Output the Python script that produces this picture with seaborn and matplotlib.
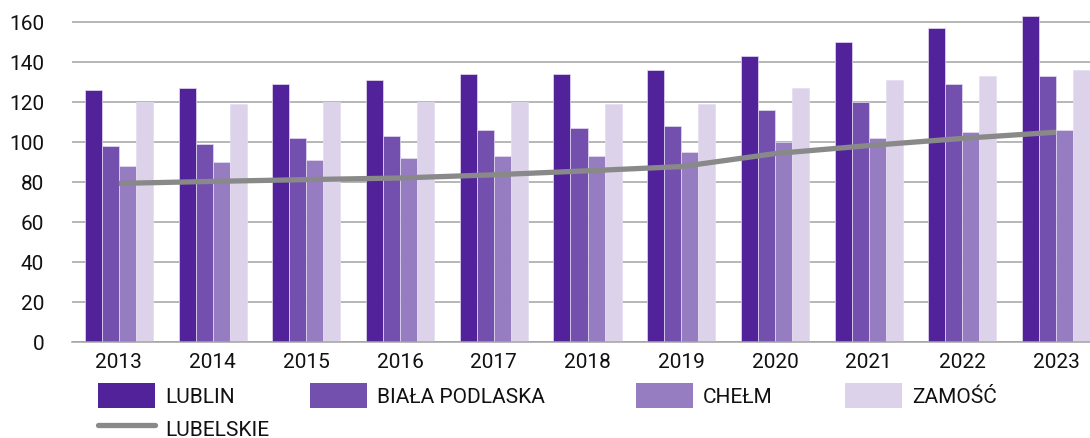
import numpy as np
import pandas as pd
import matplotlib
matplotlib.use("Agg")
import matplotlib.pyplot as plt
from matplotlib.patches import Patch
from matplotlib.lines import Line2D
import seaborn as sns

# ---- data -------------------------------------------------------------
years = ["2013", "2014", "2015", "2016", "2017", "2018",
         "2019", "2020", "2021", "2022", "2023"]
lublin = [126, 127, 129, 131, 134, 134, 136, 143, 150, 157, 163]
biala_podlaska = [98, 99, 102, 103, 106, 107, 108, 116, 120, 129, 133]
chelm = [88, 90, 91, 92, 93, 93, 95, 100, 102, 105, 106]
zamosc = [120, 119, 120, 120, 120, 119, 119, 127, 131, 133, 136]
lubelskie = [79.3, 80.3, 81.2, 82.0, 83.6, 85.6, 87.7, 94.2, 98.2, 101.8, 104.9]

city_names = ["LUBLIN", "BIAŁA PODLASKA", "CHEŁM", "ZAMOŚĆ"]
region_name = "LUBELSKIE"
yticks = [0, 20, 40, 60, 80, 100, 120, 140, 160]

# ---- styling ----------------------------------------------------------
sns.set_theme(style="white")
plt.rcParams["font.family"] = ["Roboto", "DejaVu Sans"]

palette = ["#52229A", "#7450AE", "#967DC1", "#DCD3EA"]
line_color = "#898989"
grid_color = "#A3A3A3"
text_color = "#111111"
fs = 15

df = pd.DataFrame({
    "year": np.repeat(years, 4),
    "city": city_names * len(years),
    "value": np.ravel(np.column_stack([lublin, biala_podlaska, chelm, zamosc])),
})

fig = plt.figure(figsize=(10.90, 4.39), dpi=100)
# y range runs a little past the top gridline so the tallest bar is not cut
ax = fig.add_axes([72 / 1090, 96 / 439, 1031 / 1090, 330 / 439])

sns.barplot(data=df, x="year", y="value", hue="city", order=years,
            hue_order=city_names, palette=palette, width=0.726,
            saturation=1, edgecolor="#E4DCF0", linewidth=0.5,
            legend=False, ax=ax, zorder=2)

sns.lineplot(x=np.arange(len(years)), y=lubelskie, color=line_color,
             linewidth=3.8, ax=ax, zorder=3, solid_capstyle="butt")

ax.set_xlim(-0.5, len(years) - 0.5)
ax.set_ylim(0, 165)
ax.set_yticks(yticks)
ax.set_yticklabels([str(v) for v in yticks])
ax.yaxis.grid(True, color=grid_color, linewidth=1.1)
ax.set_axisbelow(True)
ax.set_xlabel("")
ax.set_ylabel("")

for side in ["top", "right", "left"]:
    ax.spines[side].set_visible(False)
ax.spines["bottom"].set_color(grid_color)
ax.spines["bottom"].set_linewidth(1.1)

ax.tick_params(axis="both", length=0, labelsize=fs, colors=text_color)
ax.tick_params(axis="y", pad=20)
ax.tick_params(axis="x", pad=7)

# ---- legend: one entry per slot --------------------------------------
handles = [Patch(facecolor=c, edgecolor="none") for c in palette]
handles.append(Line2D([], [], color=line_color, linewidth=3.8))
labels = city_names + [region_name]
slots = [(88, 396.5), (300, 396.5), (626, 396.5), (835, 396.5), (88, 429)]

for h, lab, (px, py) in zip(handles, labels, slots):
    fig.legend([h], [lab], loc="center left",
               bbox_to_anchor=(px / 1090, 1 - py / 439),
               frameon=False, fontsize=fs, borderpad=0,
               handlelength=2.7, handleheight=1.45, handletextpad=0.5,
               labelcolor=text_color)

fig.savefig("out.png", dpi=100)
